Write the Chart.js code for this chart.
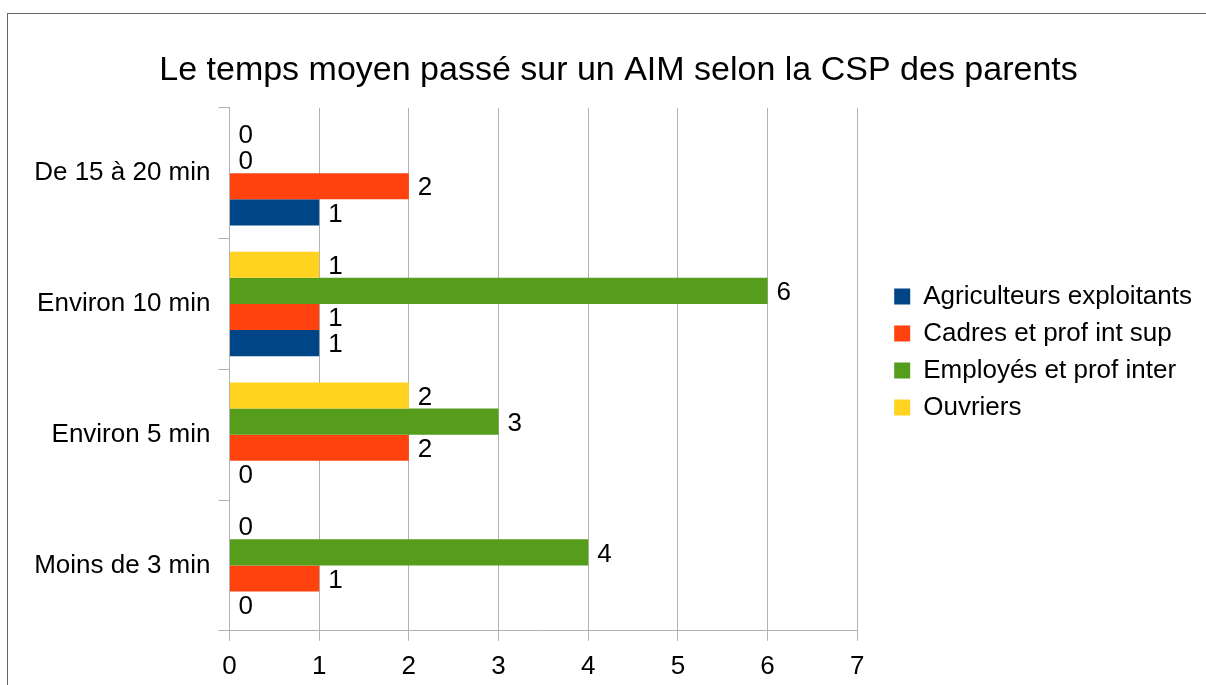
<!DOCTYPE html>
<html lang="fr">
<head>
<meta charset="utf-8">
<title>Le temps moyen passé sur un AIM selon la CSP des parents</title>
<script src="https://cdn.jsdelivr.net/npm/chart.js@4/dist/chart.umd.min.js"></script>
<style>
  html, body { margin: 0; padding: 0; background: #fff; overflow: hidden; }
  #wrap { position: relative; width: 1206px; height: 685px; }
</style>
</head>
<body>
<div id="wrap"><canvas id="chart" width="1206" height="685"></canvas></div>
<script>
// Categories listed top to bottom, as they appear in the picture
const CATEGORIES = ['De 15 à 20 min', 'Environ 10 min', 'Environ 5 min', 'Moins de 3 min'];

// Series values, one per category (same order as CATEGORIES)
const AGRICULTEURS = [1, 1, 0, 0];
const CADRES = [2, 1, 2, 1];
const EMPLOYES = [0, 6, 3, 4];
const OUVRIERS = [0, 1, 2, 0];

const SERIES_NAMES = ['Agriculteurs exploitants', 'Cadres et prof int sup', 'Employés et prof inter', 'Ouvriers'];
const SERIES_VALUES = [AGRICULTEURS, CADRES, EMPLOYES, OUVRIERS];
const SERIES_COLORS = ['#004586', '#ff420e', '#579d1c', '#ffd320'];

const X_MIN = 0;
const X_MAX = 7;

const FONT = "'Liberation Sans', Arial, sans-serif";
const GRID = '#b3b3b3';

Chart.defaults.font.family = FONT;
Chart.defaults.color = '#000';
Chart.defaults.animation = false;

// Within a group the first series sits at the bottom, so feed them in reverse
const datasets = SERIES_NAMES.map((name, i) => ({
    label: name,
    data: SERIES_VALUES[i],
    backgroundColor: SERIES_COLORS[i],
    borderWidth: 0,
    yAxisID: 'y',
    categoryPercentage: 0.8,
    barPercentage: 1.0,
})).reverse();

// Frame round the whole chart (cut by the window on the right and bottom)
const frame = {
    id: 'frame',
    beforeDraw(chart) {
        const { ctx } = chart;
        ctx.save();
        ctx.fillStyle = '#fff';
        ctx.fillRect(0, 0, chart.width, chart.height);
        ctx.strokeStyle = '#666';
        ctx.lineWidth = 1;
        ctx.strokeRect(7.5, 13.5, chart.width + 20, chart.height + 20);
        ctx.restore();
    }
};

// Value printed at the end of each bar
const valueLabels = {
    id: 'valueLabels',
    afterDatasetsDraw(chart) {
        const { ctx } = chart;
        ctx.save();
        ctx.font = `26px ${FONT}`;
        ctx.fillStyle = '#000';
        ctx.textAlign = 'left';
        ctx.textBaseline = 'middle';
        chart.data.datasets.forEach((ds, di) => {
            chart.getDatasetMeta(di).data.forEach((bar, i) => {
                ctx.fillText(String(ds.data[i]), bar.x + 9, bar.y + 2);
            });
        });
        ctx.restore();
    }
};

new Chart(document.getElementById('chart').getContext('2d'), {
    type: 'bar',
    data: { labels: CATEGORIES, datasets },
    options: {
        indexAxis: 'y',
        responsive: false,
        layout: { padding: { top: 50, left: 35, right: 4, bottom: -7 } },
        plugins: {
            title: {
                display: true,
                text: 'Le temps moyen passé sur un AIM selon la CSP des parents',
                font: { size: 34, weight: 'normal' },
                color: '#000',
                padding: { top: 0, bottom: 17 },
            },
            legend: {
                position: 'right',
                align: 'start',
                reverse: true,
                maxWidth: 400,
                title: { display: true, text: '', padding: { top: 208, bottom: 0 } },
                labels: {
                    font: { size: 26, lineHeight: 1 },
                    color: '#000',
                    boxWidth: 16,
                    boxHeight: 16,
                    padding: 11,
                },
            },
            tooltip: { enabled: false },
        },
        scales: {
            y: {
                type: 'category',
                grid: { drawOnChartArea: false, drawTicks: true, tickLength: 11, color: GRID, offset: true },
                border: { color: GRID },
                ticks: { font: { size: 26 }, color: '#000', padding: 8 },
            },
            x: {
                type: 'linear',
                min: X_MIN,
                max: X_MAX,
                grid: { color: GRID, tickLength: 10 },
                border: { color: GRID },
                ticks: { stepSize: 1, font: { size: 26 }, color: '#000', padding: 10 },
            },
            // empty gap between the plot and the legend
            yGap: {
                position: 'right',
                grid: { display: false },
                border: { display: false },
                ticks: { display: false },
                afterFit: (scale) => { scale.width = 26; },
            },
        },
    },
    plugins: [frame, valueLabels],
});
</script>
</body>
</html>
